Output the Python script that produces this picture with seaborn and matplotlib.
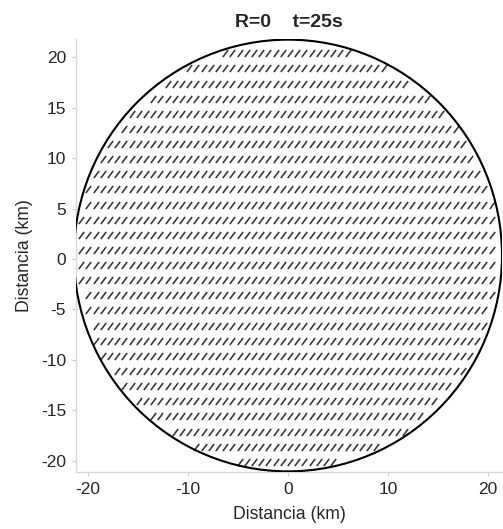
import numpy as np
import pandas as pd
import matplotlib
matplotlib.use("Agg")
import matplotlib.pyplot as plt
from matplotlib.path import Path
from matplotlib.patches import Circle
import seaborn as sns

# Burned / affected area: circle centre and radius (km)
center_x = 0.0
center_y = 0.35
radius = 21.4

# Hatch grid of the interior (km)
row_top = 20.4
row_step = 1.5
n_rows = 28
col_step = 0.72
edge_margin = 0.35

title = "R=0    t=25s"
xlabel = "Distancia (km)"
ylabel = "Distancia (km)"
xticks = [-20, -10, 0, 10, 20]
yticks = [-20, -15, -10, -5, 0, 5, 10, 15, 20]

# Build the hatch points lying inside the circle
rows = row_top - row_step * np.arange(n_rows)
cols = np.arange(-radius, radius + col_step, col_step)
gx, gy = np.meshgrid(cols, rows)
inside = np.hypot(gx - center_x, gy - center_y) <= radius - edge_margin
hatch = pd.DataFrame({"x": gx[inside], "y": gy[inside]})

sns.set_theme(style="white")
plt.rcParams["font.family"] = ["Liberation Sans", "DejaVu Sans"]
plt.rcParams["axes.unicode_minus"] = False

fig = plt.figure(figsize=(5.03, 5.29), dpi=100)
ax = fig.add_axes([0.151, 0.108, 0.847, 0.818])

dash = Path([(-0.75, -1.0), (0.75, 1.0)], [Path.MOVETO, Path.LINETO])
sns.scatterplot(data=hatch, x="x", y="y", marker=dash, s=26,
                linewidth=1.2, edgecolor="#3a3a3a", color="#3a3a3a",
                legend=False, ax=ax)

ax.add_patch(Circle((center_x, center_y), radius, fill=False,
                    edgecolor="black", linewidth=1.5, zorder=3))

ax.set_xlim(-21.2, 21.4)
ax.set_ylim(-21.1, 21.8)
ax.set_xticks(xticks)
ax.set_yticks(yticks)
ax.tick_params(axis="both", labelsize=12.5, length=3, width=0.8,
               color="#cccccc", pad=4, direction="out",
               bottom=True, left=True)
ax.set_xlabel(xlabel, fontsize=12.7, labelpad=7)
ax.set_ylabel(ylabel, fontsize=12.7, labelpad=6)
ax.set_title(title, fontsize=14, fontweight="bold", pad=9)

for side in ("top", "right"):
    ax.spines[side].set_visible(False)
for side in ("left", "bottom"):
    ax.spines[side].set_color("#d8d8d8")
    ax.spines[side].set_linewidth(1.0)

fig.savefig("out.png", dpi=100)
